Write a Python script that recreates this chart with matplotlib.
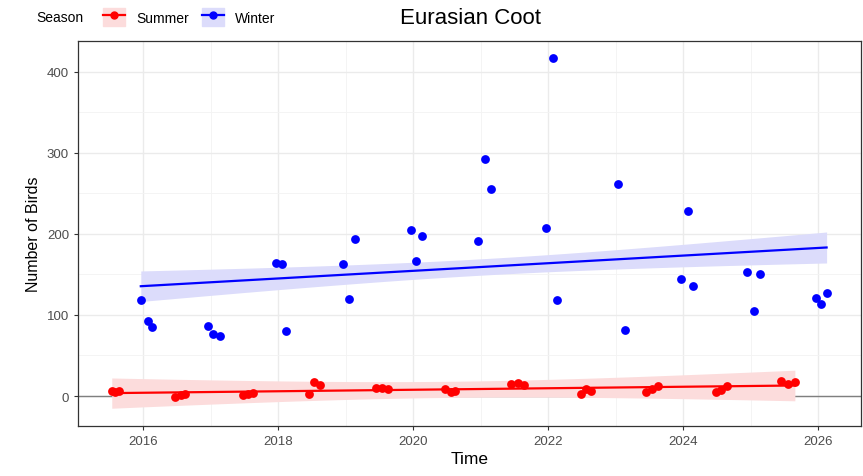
import numpy as np
import matplotlib
matplotlib.use("Agg")
import matplotlib.pyplot as plt
from matplotlib.patches import Patch
from matplotlib.lines import Line2D

plt.rcParams['font.family'] = ['Liberation Sans', 'DejaVu Sans']

# winter counts (Dec / Jan / Feb), time in decimal years
winter_t = [2015.96, 2016.07, 2016.13, 2016.95, 2017.03, 2017.13,
            2017.96, 2018.05, 2018.11, 2018.96, 2019.05, 2019.14,
            2019.96, 2020.03, 2020.13, 2020.96, 2021.06, 2021.15,
            2021.97, 2022.06, 2022.13, 2023.03, 2023.13,
            2023.97, 2024.06, 2024.14, 2024.94, 2025.04, 2025.13,
            2025.96, 2026.04, 2026.12]
winter_n = [119, 93, 85, 86, 77, 74,
            164, 163, 80, 163, 120, 194,
            205, 166, 197, 191, 293, 256,
            207, 417, 118, 262, 82,
            144, 228, 136, 153, 105, 151,
            121, 114, 127]

# summer counts (Jun / Jul / Aug)
summer_t = [2015.53, 2015.58, 2015.63, 2016.47, 2016.55, 2016.62,
            2017.47, 2017.55, 2017.62, 2018.45, 2018.52, 2018.62,
            2019.45, 2019.54, 2019.62, 2020.47, 2020.55, 2020.62,
            2021.45, 2021.55, 2021.63, 2022.48, 2022.55, 2022.63,
            2023.45, 2023.53, 2023.62, 2024.48, 2024.56, 2024.64,
            2025.45, 2025.55, 2025.65]
summer_n = [6, 5, 6, -1, 1, 2,
            1, 2, 4, 2, 17, 14,
            10, 10, 9, 9, 5, 6,
            15, 16, 13, 3, 9, 6,
            5, 9, 12, 5, 8, 12,
            19, 15, 17]

band_sd = 28  # spread of the ribbon


def smooth(ax, t, n, col, fill):
    t = np.array(t)
    n = np.array(n, dtype=float)
    b, a = np.polyfit(t, n, 1)
    xs = np.linspace(t.min(), t.max(), 80)
    ys = a + b * xs
    sxx = ((t - t.mean()) ** 2).sum()
    se = band_sd * np.sqrt(1 / len(t) + (xs - t.mean()) ** 2 / sxx)
    ax.fill_between(xs, ys - 2.04 * se, ys + 2.04 * se, color=fill, lw=0, zorder=2)
    ax.plot(xs, ys, color=col, lw=1.6, zorder=3)


fig = plt.figure(figsize=(8.63, 4.77), dpi=100)
ax = fig.add_axes([0.0904, 0.1048, 0.9073, 0.8072])

ax.axhline(0, color='#7f7f7f', lw=1.0, zorder=1.5)
ax.scatter(summer_t, summer_n, s=40, color='#ff0000', zorder=4, lw=0)
ax.scatter(winter_t, winter_n, s=40, color='#0000ff', zorder=4, lw=0)
smooth(ax, summer_t, summer_n, '#ff0000', '#fcdcdc')
smooth(ax, winter_t, winter_n, '#0000ff', '#dcdcfb')

ax.set_xlim(2015.03, 2026.63)
ax.set_ylim(-37, 438)
ax.set_xticks(range(2016, 2027, 2))
ax.set_xticks(range(2017, 2027, 2), minor=True)
ax.set_yticks([0, 100, 200, 300, 400])
ax.set_yticks([50, 150, 250, 350], minor=True)
ax.grid(True, which='major', color='#ebebeb', lw=1.0, zorder=0)
ax.grid(True, which='minor', color='#f3f3f3', lw=0.6, zorder=0)
ax.set_axisbelow(True)
for s in ax.spines.values():
    s.set_color('#333333')
    s.set_linewidth(0.9)
ax.tick_params(which='major', colors='#333333', labelcolor='#4d4d4d',
               labelsize=9.5, length=3, width=0.8)
ax.tick_params(which='minor', length=0)
ax.set_xlabel('Time', fontsize=12.5, labelpad=3)
ax.set_ylabel('Number of Birds', fontsize=11.5, labelpad=4)

fig.text(0.545, 0.962, 'Eurasian Coot', fontsize=16, ha='center', va='center')
fig.text(0.042, 0.962, 'Season', fontsize=10, ha='left', va='center')
handles = [(Patch(color='#fcdcdc'), Line2D([], [], color='#ff0000', marker='o', ms=5, lw=1.6)),
           (Patch(color='#dcdcfb'), Line2D([], [], color='#0000ff', marker='o', ms=5, lw=1.6))]
fig.legend(handles, ['Summer', 'Winter'], ncol=2, frameon=False, fontsize=10,
           loc='center left', bbox_to_anchor=(0.105, 0.962),
           handlelength=1.6, handleheight=1.6, handletextpad=0.8, columnspacing=0.9)

fig.savefig('out.png', dpi=100)
